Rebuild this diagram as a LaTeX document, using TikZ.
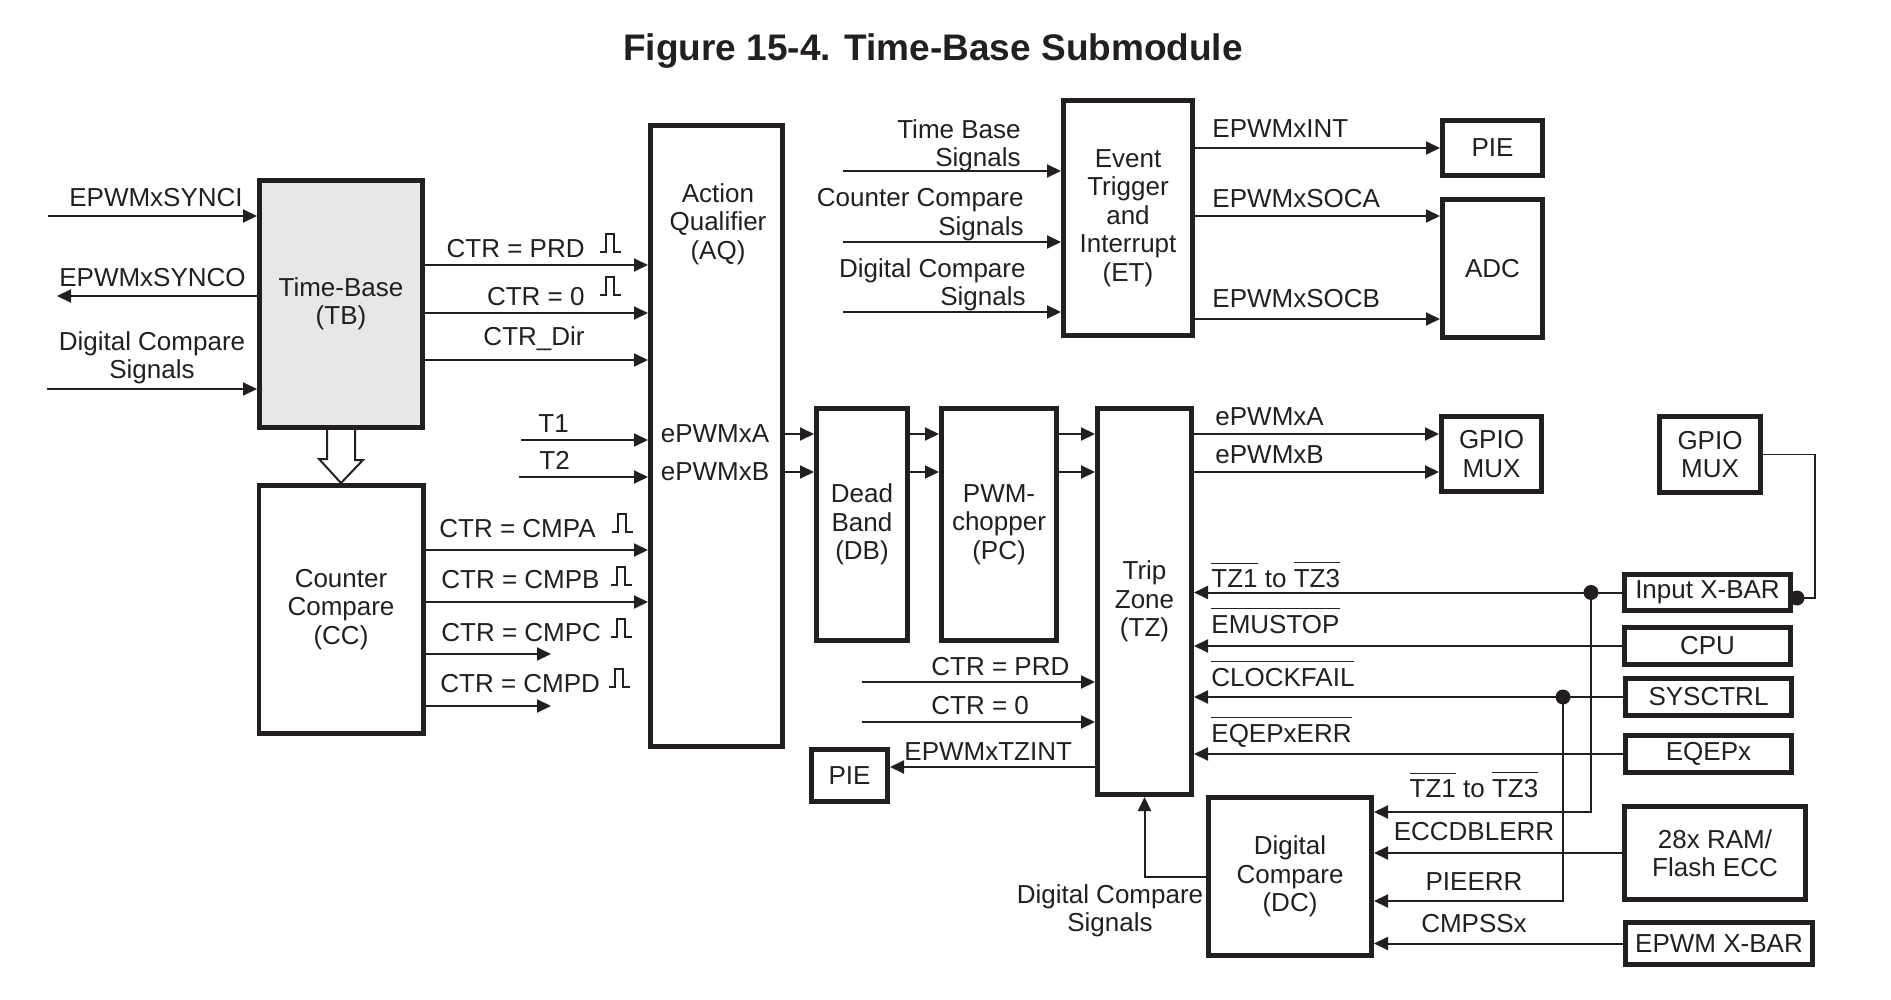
\documentclass[tikz,border=0pt]{standalone}
\usepackage{fontspec}
\setmainfont{Liberation Sans}
\usepackage{xcolor}
\usepackage{tikz}
\usetikzlibrary{arrows.meta, calc}
\definecolor{ink}{HTML}{231F20}
\definecolor{tbgray}{HTML}{E6E7E8}
\newcommand{\ovl}[1]{$\overline{\mbox{\raisebox{0pt}[\dimexpr\height+1.6pt\relax]{#1}}}$}
\tikzset{pulse/.pic={\draw[line width=0.6pt] (0,0) -- (6,0) -- (6,-18) -- (14,-18) -- (14,0) -- (21,0);}}

\begin{document}
\begin{tikzpicture}[
    x=0.5pt, y=-0.5pt,
    font=\fontsize{13}{14.25}\selectfont,
    color=ink,
    blk/.style={draw=ink, line width=2.4pt, inner sep=0pt, align=center},
    lbl/.style={inner sep=0pt, text=ink},
    sig/.style={-{Triangle[length=7pt, width=6.5pt]}, line width=1pt, draw=ink},
    wire/.style={line width=0.8pt, draw=ink},
    hollow/.style={line width=1pt, draw=ink, fill=white, line join=miter},
    dot/.style={circle, fill=ink, inner sep=0pt, minimum size=7.5pt},
  ]
  \useasboundingbox (0,0) rectangle (1891,1000);
  \node[font=\fontsize{18.5}{20}\selectfont\bfseries, anchor=base] (title) at (933,61) {Figure 15-4. Time-Base Submodule};

  % blocks
  \node[blk, fill=tbgray, minimum width=81.6pt, minimum height=123.6pt] (tb) at (341,304) {Time-Base\\(TB)};
  \node[blk, minimum width=82.1pt, minimum height=124.1pt] (cc) at (341,609.5) {Counter\\Compare\\(CC)};
  \node[blk, minimum width=66.1pt, minimum height=310.6pt] (aq) at (716.5,436) {};
  \node[lbl, anchor=north, align=center] (aqtxt) at (718,183) {Action\\Qualifier\\(AQ)};
  \node[lbl, anchor=base] (aqa) at (715,443) {ePWMxA};
  \node[lbl, anchor=base] (aqb) at (715,480) {ePWMxB};
  \node[blk, minimum width=64.6pt, minimum height=117.6pt] (et) at (1128,218) {Event\\Trigger\\and\\Interrupt\\(ET)};
  \node[blk, minimum width=50.1pt, minimum height=27.6pt] (pie) at (1492.5,148) {PIE};
  \node[blk, minimum width=50.1pt, minimum height=69.1pt] (adc) at (1492.5,268.5) {ADC};
  \node[blk, minimum width=45.6pt, minimum height=116.1pt] (db) at (862,524.5) {Dead\\Band\\(DB)};
  \node[blk, minimum width=57.6pt, minimum height=116.1pt] (pc) at (999,524.5) {PWM-\\chopper\\(PC)};
  \node[blk, minimum width=47.1pt, minimum height=193.1pt] (tz) at (1144.5,601.5) {Trip\\Zone\\(TZ)};
  \node[blk, minimum width=50.1pt, minimum height=37.6pt] (gpio1) at (1491.5,454) {GPIO\\MUX};
  \node[blk, minimum width=50.6pt, minimum height=38.1pt] (gpio2) at (1710,454.5) {GPIO\\MUX};
  \node[blk, minimum width=83.1pt, minimum height=18.1pt] (xbar) at (1707.5,592.5) {Input X-BAR};
  \node[blk, minimum width=83.1pt, minimum height=18.6pt] (cpu) at (1707.5,646) {CPU};
  \node[blk, minimum width=83.1pt, minimum height=18.6pt] (sysctrl) at (1708.5,697) {SYSCTRL};
  \node[blk, minimum width=83.1pt, minimum height=18.6pt] (eqep) at (1708.5,754) {EQEPx};
  \node[blk, minimum width=90.6pt, minimum height=46.6pt] (ram) at (1715,853) {28x RAM/\\Flash ECC};
  \node[blk, minimum width=93.6pt, minimum height=21.1pt] (exbar) at (1719,943.5) {EPWM X-BAR};
  \node[blk, minimum width=38.1pt, minimum height=26.1pt] (pie2) at (849.5,775.5) {PIE};
  \node[blk, minimum width=81.6pt, minimum height=79.1pt] (dc) at (1290,876.5) {Digital\\Compare\\(DC)};

  % row levels and free ends
  \coordinate (yprd) at (0,265);
  \coordinate (yzero) at (0,313);
  \coordinate (ydir) at (0,360);
  \coordinate (ycmpa) at (0,550);
  \coordinate (ycmpb) at (0,602);
  \coordinate (ya) at (0,434);
  \coordinate (yb) at (0,472);
  \coordinate (ysoca) at (0,216);
  \coordinate (ysocb) at (0,319);
  \coordinate (ytzint) at (0,767);
  \coordinate (ydctz) at (0,812);
  \coordinate (ypieerr) at (0,901);
  \coordinate (synci) at (48,216);
  \coordinate (synco) at (57,296);
  \coordinate (dcsin) at (47,389);
  \coordinate (t1in) at (521,440);
  \coordinate (t2in) at (519,477);
  \coordinate (cmpcout) at (551,654);
  \coordinate (cmpdout) at (551,706);
  \coordinate (tbsin) at (843,171);
  \coordinate (ccsin) at (843,242);
  \coordinate (dcsetin) at (843,312);
  \coordinate (prdin) at (862,682);
  \coordinate (zeroin) at (862,722);

  % time-base
  \draw[sig] (synci) -- (synci -| tb.west);
  \node[lbl, anchor=base] (lsynci) at (156,207) {EPWMxSYNCI};
  \draw[sig] (synco -| tb.west) -- (synco);
  \node[lbl, anchor=base] (lsynco) at (152.5,287) {EPWMxSYNCO};
  \draw[sig] (dcsin) -- (dcsin -| tb.west);
  \node[lbl, anchor=north, align=center] (ldcs) at (152,331) {Digital Compare\\Signals};
  \draw[hollow] ($(tb.south)+(-14,0)$) -- ++(0,29) -- ++(-8,0) -- (cc.north) -- ++(22,-23) -- ++(-8,0) -- ($(tb.south)+(14,0)$);

  \draw[sig] (tb.east |- yprd) -- (aq.west |- yprd);
  \node[lbl, anchor=base east] (lprd) at (585,258) {CTR = PRD};
  \pic at (600,252) {pulse};
  \draw[sig] (tb.east |- yzero) -- (aq.west |- yzero);
  \node[lbl, anchor=base east] (lzero) at (585,306) {CTR = 0};
  \pic at (600,295) {pulse};
  \draw[sig] (tb.east |- ydir) -- (aq.west |- ydir);
  \node[lbl, anchor=base east] (ldir) at (585,346) {CTR\_Dir};
  \draw[sig] (t1in) -- (t1in -| aq.west);
  \node[lbl, anchor=base west] (lt1) at (538,432) {T1};
  \draw[sig] (t2in) -- (t2in -| aq.west);
  \node[lbl, anchor=base west] (lt2) at (539,469) {T2};

  % counter compare
  \draw[sig] (cc.east |- ycmpa) -- (aq.west |- ycmpa);
  \node[lbl, anchor=base west] (lcmpa) at (439,537) {CTR = CMPA};
  \pic at (612,532) {pulse};
  \draw[sig] (cc.east |- ycmpb) -- (aq.west |- ycmpb);
  \node[lbl, anchor=base west] (lcmpb) at (441,588) {CTR = CMPB};
  \pic at (611,585) {pulse};
  \draw[sig] (cmpcout -| cc.east) -- (cmpcout);
  \node[lbl, anchor=base west] (lcmpc) at (441,641) {CTR = CMPC};
  \pic at (611,637) {pulse};
  \draw[sig] (cmpdout -| cc.east) -- (cmpdout);
  \node[lbl, anchor=base west] (lcmpd) at (440,692) {CTR = CMPD};
  \pic at (609,687) {pulse};

  % event trigger
  \draw[sig] (tbsin) -- (tbsin -| et.west);
  \node[lbl, anchor=north east, align=right] (ltbs) at (1021,119) {Time Base\\Signals};
  \draw[sig] (ccsin) -- (ccsin -| et.west);
  \node[lbl, anchor=north east, align=right] (lccs) at (1024,188) {Counter Compare\\Signals};
  \draw[sig] (dcsetin) -- (dcsetin -| et.west);
  \node[lbl, anchor=north east, align=right] (ldcset) at (1026,258) {Digital Compare\\Signals};
  \draw[sig] (et.east |- pie.west) -- (pie.west);
  \node[lbl, anchor=base west] (lint) at (1212,138) {EPWMxINT};
  \draw[sig] (et.east |- ysoca) -- (adc.west |- ysoca);
  \node[lbl, anchor=base west] (lsoca) at (1212,208) {EPWMxSOCA};
  \draw[sig] (et.east |- ysocb) -- (adc.west |- ysocb);
  \node[lbl, anchor=base west] (lsocb) at (1212,307) {EPWMxSOCB};

  % output chain
  \draw[sig] (aq.east |- ya) -- (db.west |- ya);
  \draw[sig] (aq.east |- yb) -- (db.west |- yb);
  \draw[sig] (db.east |- ya) -- (pc.west |- ya);
  \draw[sig] (db.east |- yb) -- (pc.west |- yb);
  \draw[sig] (pc.east |- ya) -- (tz.west |- ya);
  \draw[sig] (pc.east |- yb) -- (tz.west |- yb);
  \draw[sig] (tz.east |- ya) -- (gpio1.west |- ya);
  \node[lbl, anchor=base west] (lepa) at (1215,425) {ePWMxA};
  \draw[sig] (tz.east |- yb) -- (gpio1.west |- yb);
  \node[lbl, anchor=base west] (lepb) at (1215,463) {ePWMxB};

  % trip zone
  \draw[sig] (prdin) -- (prdin -| tz.west);
  \node[lbl, anchor=base west] (lprd2) at (931,675) {CTR = PRD};
  \draw[sig] (zeroin) -- (zeroin -| tz.west);
  \node[lbl, anchor=base west] (lzero2) at (931,714) {CTR = 0};
  \draw[sig] (tz.west |- ytzint) -- (pie2.east |- ytzint);
  \node[lbl, anchor=base west] (ltzint) at (904,760) {EPWMxTZINT};
  \draw[sig] (xbar.west) -- (xbar.west -| tz.east);
  \node[lbl, anchor=base west] (ltz) at (1211,587) {\ovl{TZ1} to \ovl{TZ3}};
  \draw[sig] (cpu.west) -- (cpu.west -| tz.east);
  \node[lbl, anchor=base west] (lemu) at (1211,633) {\ovl{EMUSTOP}};
  \draw[sig] (sysctrl.west) -- (sysctrl.west -| tz.east);
  \node[lbl, anchor=base west] (lclk) at (1211,686) {\ovl{CLOCKFAIL}};
  \draw[sig] (eqep.west) -- (eqep.west -| tz.east);
  \node[lbl, anchor=base west] (leqep) at (1211,742) {\ovl{EQEPxERR}};
  \node[dot] (jxb) at (1797,598) {};
  \draw[wire] (gpio2.east) -- ++(52,0) |- (jxb.center);

  % digital compare
  \node[dot] (jtz) at (1591,592.5) {};
  \node[dot] (jsys) at (1563,697) {};
  \draw[sig] (jtz.center) |- (dc.east |- ydctz);
  \node[lbl, anchor=base] (ltz2) at (1474,797) {\ovl{TZ1} to \ovl{TZ3}};
  \draw[sig] (ram.west) -- (ram.west -| dc.east);
  \node[lbl, anchor=base] (lecc) at (1474,840) {ECCDBLERR};
  \draw[sig] (jsys.center) |- (dc.east |- ypieerr);
  \node[lbl, anchor=base] (lpieerr) at (1474,890) {PIEERR};
  \draw[sig] (exbar.west) -- (exbar.west -| dc.east);
  \node[lbl, anchor=base] (lcmpss) at (1474,932) {CMPSSx};
  \draw[sig] (dc.west) -| (tz.south);
  \node[lbl, anchor=north, align=center] (ldcs2) at (1110,884) {Digital Compare\\Signals};
\end{tikzpicture}
\end{document}
